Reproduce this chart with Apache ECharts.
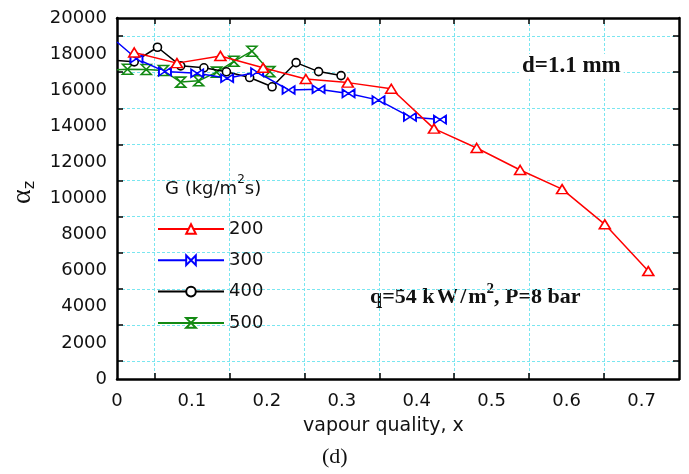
<!DOCTYPE html>
<html>
<head>
<meta charset="utf-8">
<script src="https://cdn.jsdelivr.net/npm/echarts@6/dist/echarts.min.js"></script>
<style>
  html, body { margin: 0; padding: 0; background: #ffffff; }
  #chart { width: 689px; height: 474px; }
</style>
</head>
<body>
<div id="chart"></div>
<script>
// Local heat transfer coefficient vs vapour quality, d = 1.1 mm
const seriesNames = ['200', '300', '400', '500'];

const xG200 = [0.023, 0.080, 0.138, 0.195, 0.252, 0.308, 0.366, 0.423, 0.480, 0.538, 0.594, 0.651, 0.709];
const yG200 = [18090, 17500, 17900, 17240, 16620, 16420, 16080, 13870, 12800, 11580, 10520, 8570, 5980];

const xG300 = [0, 0.026, 0.064, 0.107, 0.147, 0.187, 0.229, 0.269, 0.309, 0.349, 0.391, 0.431];
const yG300 = [18670, 17740, 17030, 16940, 16660, 17000, 16010, 16050, 15820, 15450, 14520, 14370];

const xG400 = [0, 0.023, 0.054, 0.085, 0.116, 0.146, 0.177, 0.207, 0.239, 0.269, 0.299];
const yG400 = [17650, 17570, 18380, 17350, 17240, 17020, 16700, 16190, 17530, 17030, 16810];

const xG500 = [0, 0.014, 0.039, 0.062, 0.085, 0.109, 0.133, 0.156, 0.180, 0.204];
const yG500 = [17130, 17160, 17150, 17090, 16450, 16520, 17000, 17600, 18160, 17030];

const xTickValues = [0.05, 0.15, 0.25, 0.35, 0.45, 0.55, 0.65];
const yTickValues = [1000, 3000, 5000, 7000, 9000, 11000, 13000, 15000, 17000, 19000];

const bowtie = 'path://M0,0 L0,10 L10,5 Z M20,0 L20,10 L10,5 Z';
const hourglass = 'path://M0,0 L12,0 L6,6 Z M0,12 L12,12 L6,6 Z';

function pairs(xs, ys) {
  return xs.map((x, i) => (x === 0 ? { value: [x, ys[i]], symbol: 'none' } : [x, ys[i]]));
}

const gridCol = '#7ae6f0';
const tickFont = 'DejaVu Sans';

function makeSeries(name, xs, ys, color, symbol, size, z) {
  return {
    name: name,
    type: 'line',
    data: pairs(xs, ys),
    symbol: symbol,
    symbolSize: size,
    showAllSymbol: true,
    clip: true,
    z: z,
    lineStyle: { color: color, width: 1.5 },
    itemStyle: { color: '#ffffff', borderColor: color, borderWidth: 1.6 },
    emphasis: { disabled: true },
    animation: false
  };
}

const chart = echarts.init(document.getElementById('chart'), null, { renderer: 'canvas' });

chart.setOption({
  backgroundColor: '#ffffff',
  animation: false,
  grid: { left: 117, right: 10, top: 18, bottom: 95, containLabel: false, outerBoundsMode: 'none' },
  xAxis: [{
    type: 'value', min: 0, max: 0.75, interval: 0.1, position: 'bottom',
    axisLine: { show: true, onZero: false, lineStyle: { color: '#000', width: 2.5 } },
    axisTick: { show: true, inside: true, length: 6, customValues: xTickValues, lineStyle: { color: '#000', width: 1.5 } },
    axisLabel: { show: true, margin: 13, color: '#111', fontFamily: tickFont, fontSize: 18, showMaxLabel: false,
      formatter: v => (v === 0 ? '0' : String(Math.round(v * 10) / 10)) },
    splitLine: { show: true, lineStyle: { color: gridCol, width: 1, type: [3, 2] } }
  }, {
    type: 'value', min: 0, max: 0.75, interval: 0.1, position: 'top',
    axisLine: { show: true, onZero: false, lineStyle: { color: '#000', width: 2.5 } },
    axisTick: { show: true, inside: true, length: 6, customValues: xTickValues, lineStyle: { color: '#000', width: 1.5 } },
    axisLabel: { show: false },
    splitLine: { show: false }
  }],
  yAxis: [{
    type: 'value', min: 0, max: 20000, interval: 2000, position: 'left',
    axisLine: { show: true, onZero: false, lineStyle: { color: '#000', width: 2.5 } },
    axisTick: { show: true, inside: true, length: 6, customValues: yTickValues, lineStyle: { color: '#000', width: 1.5 } },
    axisLabel: { show: true, margin: 10, color: '#111', fontFamily: tickFont, fontSize: 18, formatter: v => String(v) },
    splitLine: { show: true, lineStyle: { color: gridCol, width: 1, type: [3, 2] } }
  }, {
    type: 'value', min: 0, max: 20000, interval: 2000, position: 'right',
    axisLine: { show: true, onZero: false, lineStyle: { color: '#000', width: 2.5 } },
    axisTick: { show: true, inside: true, length: 6, customValues: yTickValues, lineStyle: { color: '#000', width: 1.5 } },
    axisLabel: { show: false },
    splitLine: { show: false }
  }],
  legend: {
    show: true,
    orient: 'vertical',
    left: 152, top: 215,
    itemWidth: 66, itemHeight: 12, itemGap: 13.3,
    data: seriesNames,
    textStyle: { color: '#111', fontFamily: tickFont, fontSize: 18, lineHeight: 18 },
    selectedMode: false,
    inactiveColor: '#000'
  },
  series: [
    makeSeries('500', xG500, yG500, '#138a13', hourglass, [10, 10], 2),
    makeSeries('400', xG400, yG400, '#000000', 'circle', 8, 3),
    makeSeries('300', xG300, yG300, '#0000ff', bowtie, [12, 8], 4),
    makeSeries('200', xG200, yG200, '#ff0000', 'triangle', [11, 9], 5)
  ],
  graphic: [
    {
      type: 'text', left: 165, top: 174,
      style: {
        text: '{t|G (kg/m}{s|2}{t|s)}',
        rich: {
          t: { font: '18px "DejaVu Sans"', fill: '#111', verticalAlign: 'bottom', lineHeight: 24 },
          s: { font: '12px "DejaVu Sans"', fill: '#111', verticalAlign: 'top', lineHeight: 24 }
        }
      }
    },
    {
      type: 'text', left: 519, top: 54, z: 10,
      style: {
        text: 'd=1.1 mm', font: 'bold 23px "Liberation Serif"', fill: '#111',
        backgroundColor: '#ffffff', padding: [1, 3, 1, 3]
      }
    },
    {
      type: 'text', left: 370, top: 282,
      style: {
        text: '{t|q=54 k\u200aW\u200a/\u200am}{s|2}{t|, P=8 bar}',
        rich: {
          t: { font: 'bold 22px "Liberation Serif"', fill: '#111', verticalAlign: 'bottom', lineHeight: 26 },
          s: { font: 'bold 15px "Liberation Serif"', fill: '#111', verticalAlign: 'top', lineHeight: 26 }
        }
      }
    },
    { type: 'text', left: 303, top: 417, style: { text: 'vapour quality, x', font: '19px "DejaVu Sans"', fill: '#111' } },
    { type: 'text', left: 322, top: 446, style: { text: '(d)', font: '22px "Liberation Serif"', fill: '#111' } },
    {
      type: 'text', x: 8, y: 204, rotation: Math.PI / 2,
      style: {
        text: '{a|α}{z|z}',
        rich: {
          a: { font: '28px "Liberation Serif"', fill: '#111', verticalAlign: 'middle', lineHeight: 30 },
          z: { font: '16px "DejaVu Sans"', fill: '#111', verticalAlign: 'bottom', lineHeight: 30 }
        }
      }
    }
  ]
});
</script>
</body>
</html>
